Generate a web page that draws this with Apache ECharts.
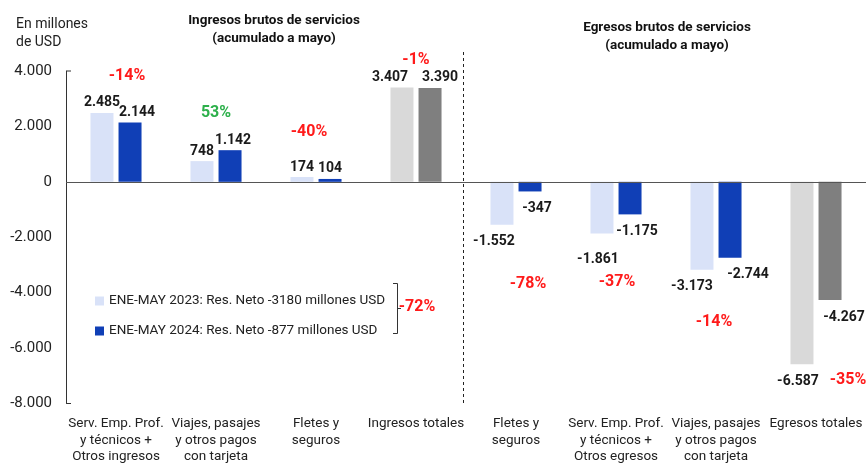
<!DOCTYPE html>
<html>
<head>
<meta charset="utf-8">
<script src="https://cdn.jsdelivr.net/npm/echarts@6/dist/echarts.min.js"></script>
<style>
  html, body { margin: 0; padding: 0; background: #fff; }
  #main { width: 867px; height: 465px; }
</style>
</head>
<body>
<div id="main"></div>
<script>
// datos (millones de USD)
var categories = [
  'Serv. Emp. Prof.\ny técnicos +\nOtros ingresos',
  'Viajes, pasajes\ny otros pagos\ncon tarjeta',
  'Fletes y\nseguros',
  'Ingresos totales',
  'Fletes y\nseguros',
  'Serv. Emp. Prof.\ny técnicos +\nOtros egresos',
  'Viajes, pasajes\ny otros pagos\ncon tarjeta',
  'Egresos totales'
];
var values2023 = [2485, 748, 174, 3407, -1552, -1861, -3173, -6587];
var values2024 = [2144, 1142, 104, 3390, -347, -1175, -2744, -4267];
var totalCats = [3, 7];
var seriesNames = [
  'ENE-MAY 2023: Res. Neto -3180 millones USD',
  'ENE-MAY 2024: Res. Neto -877 millones USD'
];
var yTicks = [-8000, -6000, -4000, -2000, 0, 2000, 4000];

// variaciones %
var pctText = ['-14%', '53%', '-40%', '-1%', '-72%', '-78%', '-37%', '-14%', '-35%'];
var pctCat = [0, 1, 2, 3, 3, 4, 5, 6, 7];
var pctVal = [3900, 2570, 1860, 4460, -4430, -3610, -3540, -5000, -7070];

// desplazamientos de etiquetas (estilo, px)
var dx2023 = [0, 0, 0, -12, -8, -4, -10, -4];
var dx2024 = [7, 3, 0, 10, 7, 7, 18, 14];
var dy2023 = [0, 0, 0, 0, 0, 9, 0, 0];
var pctDx = [11, 0, -7, 0, 1, 12, 1, -2, 32];

var chartDom = document.getElementById('main');
var myChart = echarts.init(chartDom);

var FONT = 'Roboto, "Noto Sans", sans-serif';
var fmt = function (v) {
  var s = Math.abs(v).toString().replace(/\B(?=(\d{3})+(?!\d))/g, '.');
  return (v < 0 ? '-' : '') + s;
};

function buildData(vals, total, dx, dy) {
  return vals.map(function (v, i) {
    var item = {
      value: v,
      label: {
        position: v < 0 ? 'bottom' : 'top',
        distance: v < 0 ? 10 : 3,
        offset: [dx[i], dy ? dy[i] : 0]
      }
    };
    if (totalCats.indexOf(i) >= 0) item.itemStyle = { color: total };
    return item;
  });
}

var labelStyle = {
  show: true,
  color: '#1a1a1a',
  fontFamily: FONT,
  fontSize: 14,
  fontWeight: 'bold',
  formatter: function (p) { return fmt(p.value); }
};

var option = {
  backgroundColor: '#ffffff',
  animation: false,
  title: [
    {
      text: 'En millones\nde USD', left: 11, top: 10,
      textStyle: { fontFamily: FONT, fontSize: 14, fontWeight: 'normal', color: '#222', lineHeight: 18 }
    },
    {
      text: 'Ingresos brutos de servicios\n(acumulado a mayo)', left: 269, top: 7, textAlign: 'center',
      textStyle: { fontFamily: FONT, fontSize: 13.5, fontWeight: 'bold', color: '#111', lineHeight: 18 }
    },
    {
      text: 'Egresos brutos de servicios\n(acumulado a mayo)', left: 662, top: 14, textAlign: 'center',
      textStyle: { fontFamily: FONT, fontSize: 13.5, fontWeight: 'bold', color: '#111', lineHeight: 18 }
    }
  ],
  legend: {
    orient: 'vertical',
    left: 90,
    top: 289,
    itemWidth: 9,
    itemHeight: 9,
    itemGap: 16,
    icon: 'rect',
    textStyle: { fontFamily: FONT, fontSize: 13.5, color: '#222', lineHeight: 14 },
    data: seriesNames
  },
  grid: { left: 66, right: 1, top: 71, bottom: 58 },
  xAxis: {
    type: 'category',
    data: categories,
    axisLine: { show: false, onZero: false },
    axisTick: { show: false },
    axisLabel: {
      interval: 0,
      margin: 12,
      color: '#222',
      fontFamily: FONT,
      fontSize: 13.5,
      lineHeight: 16.5
    }
  },
  yAxis: {
    type: 'value',
    min: -8000,
    max: 4000,
    interval: 2000,
    axisLine: { show: true, lineStyle: { color: '#333', width: 1 } },
    axisTick: { show: false },
    splitLine: { show: false },
    axisLabel: {
      margin: 14,
      color: '#222',
      fontFamily: FONT,
      fontSize: 15,
      formatter: function (v) { return yTicks.indexOf(v) >= 0 ? fmt(v) : ''; }
    }
  },
  series: [
    {
      name: seriesNames[0],
      type: 'bar',
      barWidth: 23,
      barGap: '22%',
      itemStyle: { color: '#D9E2F8' },
      label: labelStyle,
      data: buildData(values2023, '#D9D9D9', dx2023, dy2023),
      markLine: {
        silent: true,
        symbol: 'none',
        label: { show: false },
        lineStyle: { color: '#555', type: 'solid', width: 1.2 },
        data: [{ yAxis: 0 }]
      }
    },
    {
      name: seriesNames[1],
      type: 'bar',
      barWidth: 23,
      barGap: '22%',
      itemStyle: { color: '#103FB6' },
      label: labelStyle,
      data: buildData(values2024, '#7F7F7F', dx2024)
    }
  ]
};
myChart.setOption(option);

// anotaciones: separador, llave de la leyenda y variaciones %
var x3 = myChart.convertToPixel({ xAxisIndex: 0 }, 3);
var x4 = myChart.convertToPixel({ xAxisIndex: 0 }, 4);
var sepX = Math.round((x3 + x4) / 2) - 2.5;
var yBottom = myChart.convertToPixel({ yAxisIndex: 0 }, -8000);

var graphics = [
  {
    type: 'line',
    shape: { x1: sepX, y1: 52, x2: sepX, y2: yBottom },
    style: { stroke: '#222', lineWidth: 1, lineDash: [3, 3] }
  },
  {
    type: 'polyline',
    shape: { points: [[393, 283.5], [397.5, 283.5], [397.5, 333.5], [393, 333.5]] },
    style: { stroke: '#333', lineWidth: 1, fill: null }
  },
  {
    type: 'line',
    shape: { x1: 397.5, y1: 308.5, x2: 401, y2: 308.5 },
    style: { stroke: '#333', lineWidth: 1 }
  },
  {
    type: 'line',
    shape: { x1: 66.5, y1: 71, x2: 71, y2: 71 },
    style: { stroke: '#333', lineWidth: 1 }
  },
  {
    type: 'line',
    shape: { x1: 66.5, y1: yBottom, x2: 71, y2: yBottom },
    style: { stroke: '#333', lineWidth: 1 }
  }
];
pctText.forEach(function (t, i) {
  var p = myChart.convertToPixel({ xAxisIndex: 0, yAxisIndex: 0 }, [pctCat[i], pctVal[i]]);
  graphics.push({
    type: 'text',
    x: p[0] + pctDx[i],
    y: p[1] + 2,
    style: {
      text: t,
      align: 'center',
      verticalAlign: 'middle',
      fill: t.charAt(0) === '-' ? '#FF1A1A' : '#2DB04B',
      font: 'bold 16px Roboto, "Noto Sans", sans-serif'
    }
  });
});
myChart.setOption({ graphic: graphics });
</script>
</body>
</html>
